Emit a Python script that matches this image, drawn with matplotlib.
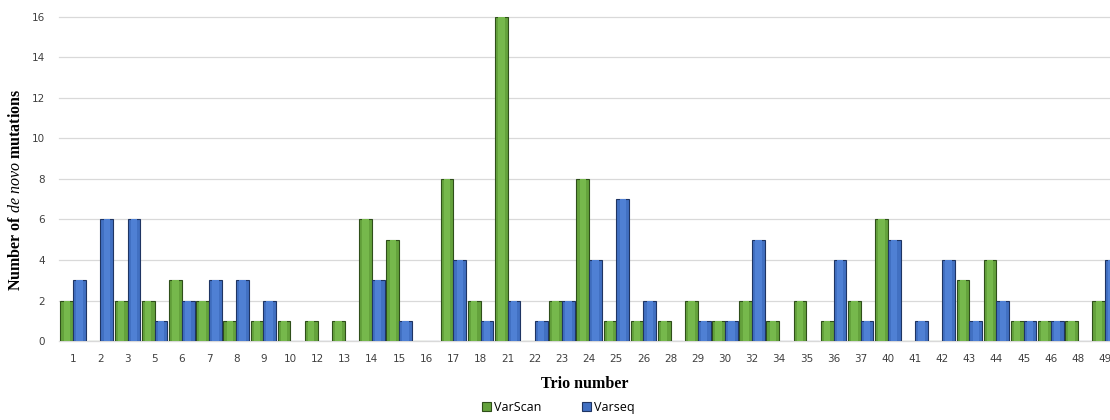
import matplotlib
matplotlib.use('Agg')
import matplotlib.pyplot as plt
import numpy as np

plt.rcParams['mathtext.fontset'] = 'custom'
plt.rcParams['mathtext.rm'] = 'Liberation Serif:bold'
plt.rcParams['mathtext.it'] = 'Liberation Serif:italic'

trios = ['1', '2', '3', '5', '6', '7', '8', '9', '10', '12', '13', '14', '15', '16',
         '17', '18', '21', '22', '23', '24', '25', '26', '28', '29', '30', '32', '34',
         '35', '36', '37', '40', '41', '42', '43', '44', '45', '46', '48', '49']
varscan = [2, 0, 2, 2, 3, 2, 1, 1, 1, 1, 1, 6, 5, 0,
           8, 2, 16, 0, 2, 8, 1, 1, 1, 2, 1, 2, 1,
           2, 1, 2, 6, 0, 0, 3, 4, 1, 1, 1, 2]
varseq = [3, 6, 6, 1, 2, 3, 3, 2, 0, 0, 0, 3, 1, 0,
          4, 1, 2, 1, 2, 4, 7, 2, 0, 1, 1, 5, 0,
          0, 4, 1, 5, 1, 4, 1, 2, 1, 1, 0, 4]

green, green_light = '#64a23c', '#76b84c'
blue, blue_light = '#4170c2', '#4f80d4'

fig = plt.figure(figsize=(11.1, 4.2), dpi=100)
ax = fig.add_axes([0.053, 0.188, 0.947, 0.772])

x = np.arange(len(trios))
w = 0.47
ax.bar(x - w / 2, varscan, w, color=green, edgecolor='#2f4f1a', linewidth=0.8, label='VarScan', zorder=3)
ax.bar(x - w / 2, varscan, w * 0.5, color=green_light, linewidth=0, zorder=4)
ax.bar(x + w / 2, varseq, w, color=blue, edgecolor='#1f3563', linewidth=0.8, label='Varseq', zorder=3)
ax.bar(x + w / 2, varseq, w * 0.5, color=blue_light, linewidth=0, zorder=4)

ax.set_xlim(-0.53, 38.18)
ax.set_ylim(0, 16)
ax.set_yticks(np.arange(0, 17, 2))
ax.set_xticks(x)
ax.set_xticklabels(trios)
ax.yaxis.grid(True, color='#d9d9d9', linewidth=0.9, zorder=0)
for gl in ax.get_ygridlines():
    gl.set_clip_on(False)
ax.set_axisbelow(True)
for s in ['top', 'right', 'left']:
    ax.spines[s].set_visible(False)
ax.spines['bottom'].set_color('#d9d9d9')
ax.tick_params(axis='both', length=0, labelsize=7.5, colors='#404040')
ax.tick_params(axis='x', pad=9)
ax.tick_params(axis='y', pad=10)

ax.set_xlabel('Trio number', fontfamily='Liberation Serif', fontweight='bold', fontsize=11.5, labelpad=9)
ax.set_ylabel(r'Number of $\it{de\ novo}$ mutations', fontfamily='Liberation Serif',
              fontweight='bold', fontsize=11.5)
ax.yaxis.set_label_coords(-0.033, 0.465)

fig.legend(loc='center', bbox_to_anchor=(0.503, 0.03), ncol=2, frameon=False,
           handlelength=0.7, handleheight=0.7, handletextpad=0.2, columnspacing=3.3,
           prop={'family': 'Open Sans', 'size': 9})

fig.savefig('out.png', dpi=100)
